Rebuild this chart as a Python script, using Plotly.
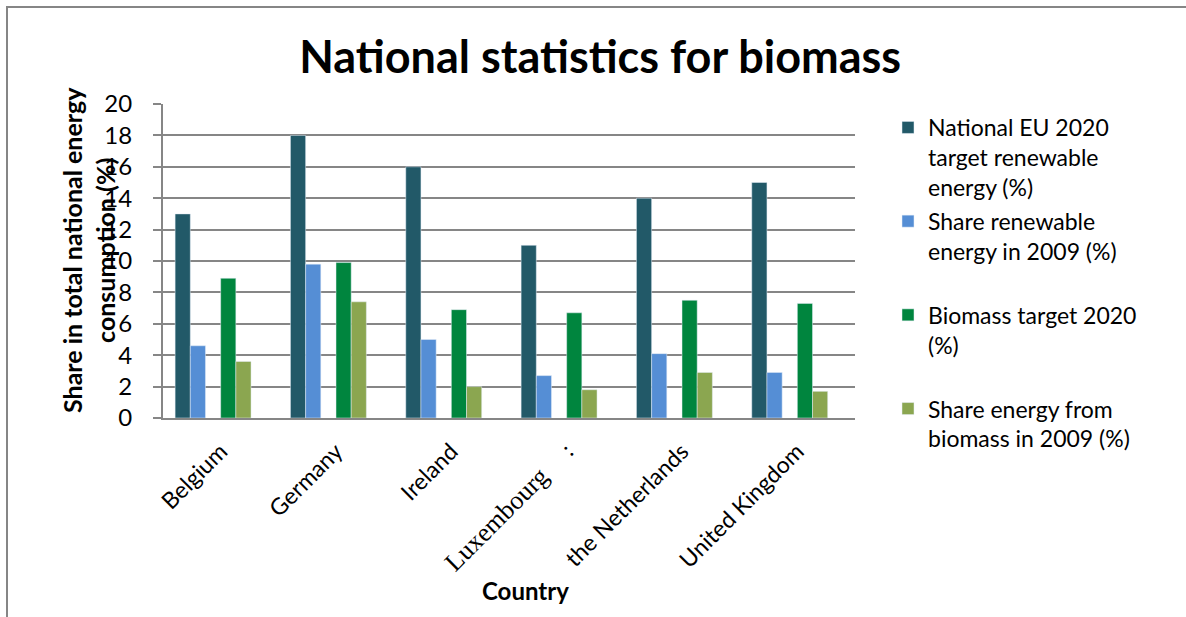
import plotly.graph_objects as go

countries = ["Belgium", "Germany", "Ireland", "Luxembourg", "the Netherlands", "United Kingdom"]
tick_labels = ["Belgium", "Germany", "Ireland",
               '<span style="font-family:Liberation Serif;font-size:26px">Luxembourg</span>&nbsp;&nbsp;&nbsp;&nbsp;&nbsp;:',
               "the Netherlands", "United Kingdom"]

national_target_2020 = [13, 18, 16, 11, 14, 15]
share_renewable_2009 = [4.6, 9.8, 5.0, 2.7, 4.1, 2.9]
biomass_target_2020 = [8.9, 9.9, 6.9, 6.7, 7.5, 7.3]
share_biomass_2009 = [3.6, 7.4, 2.0, 1.8, 2.9, 1.7]
empty_series = [None] * 6

y_ticks = [0, 2, 4, 6, 8, 10, 12, 14, 16, 18, 20]

FONT = "Lato"
GRID = "#868686"

fig = go.Figure()
series = [
    ("National EU 2020<br>target renewable<br>energy (%)", national_target_2020, "#225968", True),
    ("Share renewable<br>energy in 2009 (%)<br> ", share_renewable_2009, "#558ED5", True),
    ("", empty_series, "#ffffff", False),
    ("Biomass target 2020<br>(%)<br> ", biomass_target_2020, "#00853E", True),
    ("Share energy from<br>biomass in 2009 (%)", share_biomass_2009, "#8BA650", True),
    (" ", empty_series, "#ffffff", False),
]
for i, (name, vals, color, show) in enumerate(series):
    fig.add_trace(go.Bar(
        x=countries, y=vals, name=name, marker_color=color,
        showlegend=show, legendgroup=f"g{i}", hoverinfo="skip" if not show else None,
    ))

L, R, T, B = 163, 331, 104, 199
PW, PH = 1186 - L - R, 617 - T - B

def px_x(p):
    return (p - L) / PW

def px_y(p):
    return (617 - B - p) / PH

fig.update_layout(
    width=1186, height=617,
    margin=dict(l=L, r=R, t=T, b=B, autoexpand=False),
    paper_bgcolor="white", plot_bgcolor="white",
    font=dict(family=FONT, color="#000000", size=20),
    barmode="group", bargap=0.21, bargroupgap=0,
    title=dict(text="<b>National statistics for biomass</b>", x=0.506, xanchor="center",
               y=1 - 57 / 617, yanchor="middle", font=dict(family=FONT, size=45, color="#000")),
    xaxis=dict(tickmode="array", tickvals=countries, ticktext=tick_labels,
               tickangle=-45, ticks="", showgrid=False, showline=True,
               linecolor=GRID, linewidth=2, ticklabelstandoff=9,
               tickfont=dict(family=FONT, size=23, color="#000")),
    yaxis=dict(range=[0, 20], tickmode="array", tickvals=y_ticks, showgrid=True,
               gridcolor=GRID, gridwidth=1.6, showline=True, linecolor=GRID, linewidth=2,
               ticks="outside", ticklen=8, tickcolor=GRID, tickwidth=1.6,
               ticklabelstandoff=16, zeroline=False,
               tickfont=dict(family=FONT, size=24, color="#000")),
    legend=dict(x=px_x(888), y=px_y(106), xanchor="left", yanchor="top",
                valign="top", tracegroupgap=1, bgcolor="rgba(0,0,0,0)", maxheight=560,
                font=dict(family=FONT, size=23, color="#000"), itemwidth=30),
    annotations=[
        dict(text="<b>Share in total national energy<br>consumption (%)</b>",
             textangle=-90, xref="paper", yref="paper", x=px_x(88), y=px_y(250),
             xanchor="center", yanchor="middle", showarrow=False,
             font=dict(family=FONT, size=25, color="#000")),
        dict(text="<b>Country</b>", xref="paper", yref="paper", x=px_x(525), y=px_y(590),
             xanchor="center", yanchor="middle", showarrow=False,
             font=dict(family=FONT, size=24, color="#000")),
    ],
    shapes=[dict(type="rect", xref="paper", yref="paper",
                 x0=px_x(7), x1=px_x(1195), y0=px_y(7), y1=px_y(630),
                 line=dict(color=GRID, width=2), fillcolor="rgba(0,0,0,0)", layer="below")],
)

fig.write_html("out.html")
